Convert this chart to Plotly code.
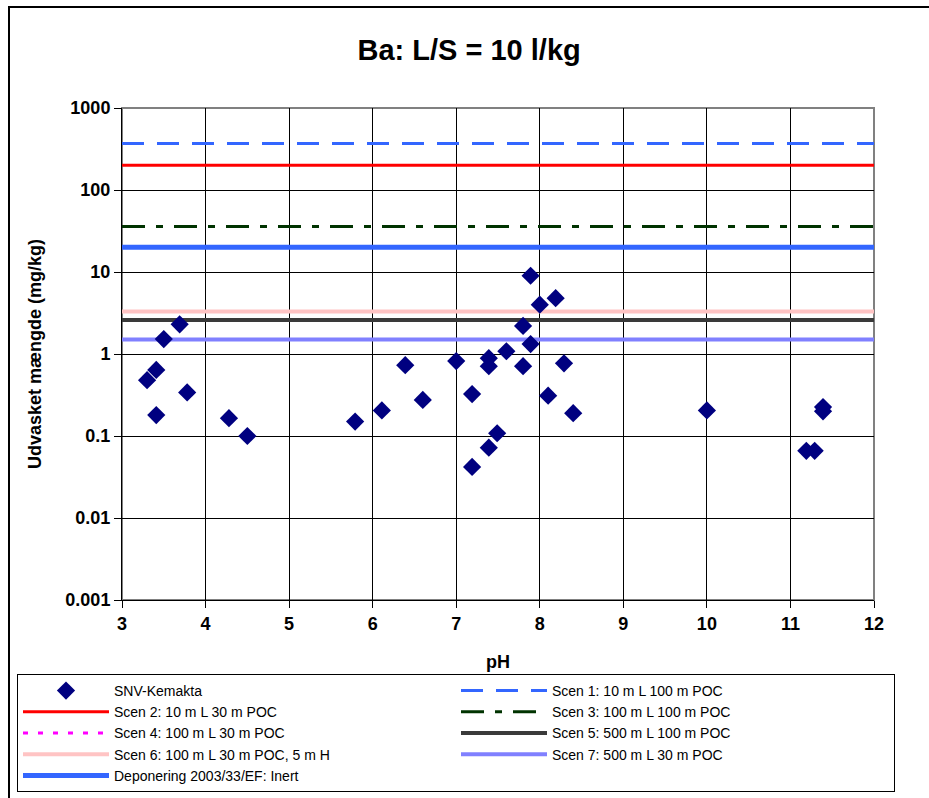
import plotly.graph_objects as go

# ---- data ----
ph = [3.30, 3.41, 3.41, 3.50, 3.69, 3.78, 4.28, 4.50, 5.79, 6.11, 6.39, 6.60,
      7.00, 7.19, 7.19, 7.39, 7.39, 7.39, 7.49, 7.60, 7.80, 7.80, 7.89, 7.89,
      8.00, 8.19, 8.10, 8.29, 8.40, 10.00, 11.19, 11.29, 11.39, 11.39]
ba = [0.48, 0.64, 0.18, 1.52, 2.3, 0.34, 0.165, 0.10, 0.15, 0.205, 0.73, 0.275,
      0.82, 0.325, 0.042, 0.072, 0.89, 0.71, 0.108, 1.08, 0.71, 2.2, 9.0, 1.32,
      4.0, 4.8, 0.31, 0.77, 0.19, 0.205, 0.066, 0.066, 0.225, 0.20]

line_x = [3, 12]
scen_names = ["Scen 1: 10 m L 100 m POC", "Scen 2: 10 m L 30 m POC",
              "Scen 3: 100 m L 100 m POC", "Scen 4: 100 m L 30 m POC",
              "Scen 5: 500 m L 100 m POC", "Scen 6: 100 m L 30 m POC, 5 m H",
              "Scen 7: 500 m L 30 m POC", "Deponering 2003/33/EF: Inert"]
scen_values = [370, 200, 36, 20, 2.6, 3.3, 1.5, 20]

y_tickvals = [0.001, 0.01, 0.1, 1, 10, 100, 1000]
y_ticktext = ["0.001", "0.01", "0.1", "1", "10", "100", "1000"]
x_tickvals = [3, 4, 5, 6, 7, 8, 9, 10, 11, 12]

# ---- styles ----
styles = [
    dict(color="#3366FF", width=3, dash="22px,13px"),
    dict(color="#FF0000", width=3, dash="solid"),
    dict(color="#003300", width=3, dash="23px,11px,7px,11px"),
    dict(color="#FF00FF", width=3, dash="5px,10px"),
    dict(color="#3A3A3A", width=4, dash="solid"),
    dict(color="#FFC4C4", width=4, dash="solid"),
    dict(color="#8080FF", width=4, dash="solid"),
    dict(color="#3366FF", width=5, dash="solid"),
]
ranks = [2, 3, 4, 5, 6, 7, 8, 9]
draw_order = [5, 4, 6, 3, 7, 2, 1, 0]

fig = go.Figure()
for i in draw_order:
    fig.add_trace(go.Scatter(
        x=line_x, y=[scen_values[i]] * 2, mode="lines", name=scen_names[i],
        line=styles[i], legendrank=ranks[i], hoverinfo="skip"))

fig.add_trace(go.Scatter(
    x=ph, y=ba, mode="markers", name="SNV-Kemakta", legendrank=1,
    marker=dict(symbol="diamond", size=14, color="#000080",
                line=dict(width=0))))

W, H = 929, 798
L, R, T, B = 122, 55, 108, 198
pw, ph_ = W - L - R, H - T - B

def px_x(p):
    return (p - L) / pw

def px_y(p):
    return (H - B - p) / ph_

FONT = "Liberation Sans, Arial, sans-serif"
fig.update_layout(
    width=W, height=H,
    margin=dict(l=L, r=R, t=T, b=B, autoexpand=False),
    paper_bgcolor="white", plot_bgcolor="white",
    font=dict(family=FONT, color="black"),
    title=dict(text="Ba: L/S = 10 l/kg", x=0.505, xref="container",
               xanchor="center", y=1 - 50 / H, yanchor="middle",
               font=dict(size=29, weight="bold")),
    showlegend=True,
    legend=dict(orientation="h", x=px_x(17), y=px_y(674),
                xanchor="left", yanchor="top",
                entrywidth=337, entrywidthmode="pixels",
                font=dict(size=14), bordercolor="black", borderwidth=1,
                bgcolor="white", traceorder="normal", itemwidth=86),
    xaxis=dict(range=[3, 12], tickvals=x_tickvals,
               ticks="outside", ticklen=7, tickcolor="black",
               showgrid=True, gridcolor="black", gridwidth=1,
               showline=True, linecolor="black", linewidth=1, zeroline=False,
               tickfont=dict(size=18, weight="bold"),
               title=dict(text="pH", font=dict(size=18, weight="bold"), standoff=22)),
    yaxis=dict(type="log", range=[-3, 3], tickvals=y_tickvals, ticktext=y_ticktext,
               ticks="outside", ticklen=7, tickcolor="black",
               showgrid=True, gridcolor="black", gridwidth=1,
               showline=True, linecolor="black", linewidth=1, zeroline=False,
               tickfont=dict(size=18, weight="bold"),
               title=dict(text="Udvasket mængde (mg/kg)",
                          font=dict(size=18, weight="bold"), standoff=19)),
    shapes=[
        dict(type="rect", xref="paper", yref="paper", x0=0, x1=1, y0=0, y1=1,
             line=dict(color="#808080", width=2), layer="below"),
        dict(type="rect", xref="paper", yref="paper",
             x0=px_x(9), x1=px_x(940), y0=px_y(810), y1=px_y(7),
             line=dict(color="black", width=2), layer="below"),
    ],
)

fig.write_html("out.html")
